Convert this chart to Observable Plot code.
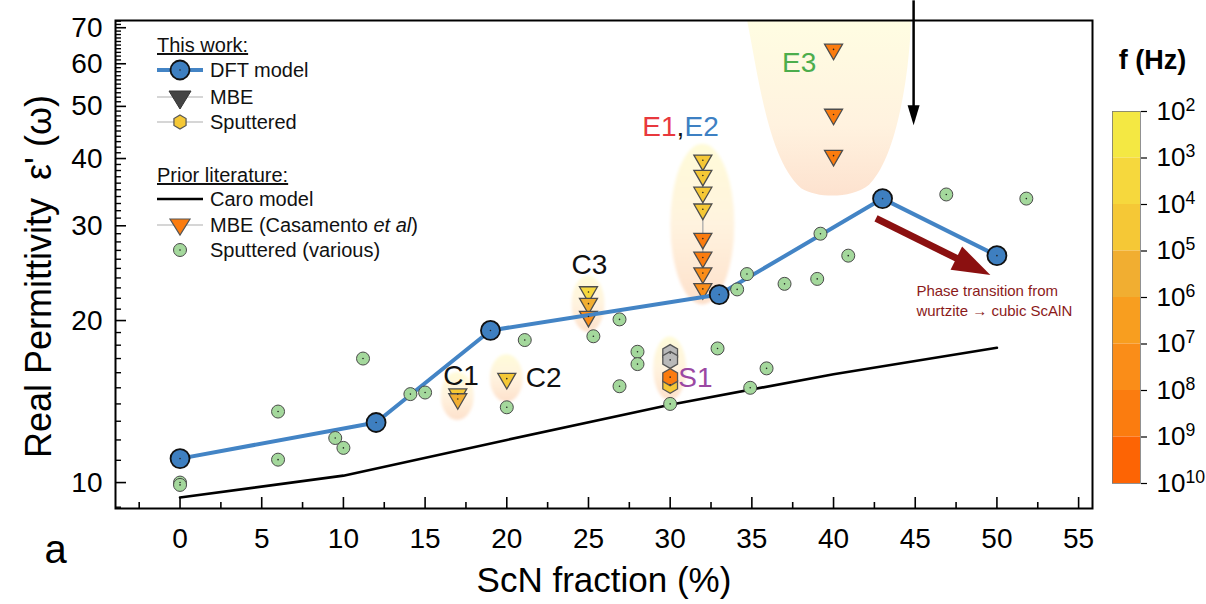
<!DOCTYPE html>
<html>
<head>
<meta charset="utf-8">
<script src="https://cdn.jsdelivr.net/npm/d3@7"></script>
<script src="https://cdn.jsdelivr.net/npm/@observablehq/plot@0.6"></script>
<style>
html,body{margin:0;padding:0;background:#fff;}
#wrap{position:relative;width:1206px;height:604px;overflow:hidden;}
#cbar{position:absolute;left:1100px;top:40px;}
</style>
</head>
<body>
<div id="wrap"><div id="main"></div><div id="cbar"></div></div>
<script>
// ---------------- data ----------------
const dftX = [0, 12, 19, 33, 43, 50];
const dftY = [11.08, 12.93, 19.17, 22.35, 33.7, 26.4];

const caroX = [0, 10, 20, 30, 40, 50];
const caroY = [9.38, 10.3, 12.0, 13.95, 15.9, 17.8];

const litX = [0, 0, 6, 6, 9.5, 10, 11.2, 14.1, 15, 20, 21.1, 25.3, 26.9, 26.9, 28, 28, 30, 32.9, 34.1, 34.7, 34.9, 35.9, 37, 39, 39.2, 40.9, 46.9, 51.8];
const litY = [10.0, 9.9, 13.55, 11.03, 12.1, 11.6, 17.0, 14.6, 14.7, 13.8, 18.4, 18.7, 20.1, 15.1, 17.5, 16.6, 14.0, 17.75, 22.85, 24.4, 15.0, 16.3, 23.4, 23.9, 29.0, 26.4, 34.3, 33.7];

const mbeGroup = ["C1","C1","C2","C3","C3","C3","E1,E2","E1,E2","E1,E2","E1,E2","E1,E2","E1,E2","E1,E2","E1,E2","E3","E3","E3"];
const mbeX = [17, 17, 20, 25, 25, 25, 32, 32, 32, 32, 32, 32, 32, 32, 40, 40, 40];
const mbeY = [14.6, 14.3, 15.6, 22.6, 21.5, 20.35, 39.7, 37.2, 34.6, 32.2, 28.4, 26.2, 24.5, 22.9, 63.8, 48.3, 40.5];
const mbeLogF = [4.5, 5.5, 4.5, 3.5, 5.5, 7.5, 4.5, 4.5, 4.5, 4.5, 8.5, 8.5, 7.5, 7.5, 8.5, 8.5, 8.5];

const spGroup = ["S1", "S1", "S1", "S1"];
const spX = [30, 30, 30, 30];
const spY = [17.4, 16.9, 15.2, 15.7];
const spLogF = [null, null, 4.5, 8.5];

const labelText = ["C1", "C2", "C3", "S1", "E3"];
const labelX = [17.2, 22.25, 25.06, 31.55, 37.9];
const labelY = [15.8, 15.67, 25.4, 15.67, 60.3];
const eLabelX = 30.63, eLabelY = 45.7;

const noteText = "Phase transition from\nwurtzite \u2192 cubic ScAlN";
const noteX = 45.07, noteY = 21.9;

const arrowBlack = {x1: 44.9, y1: 78.7, x2: 44.9, y2: 46.1};
const arrowRed = {x1: 42.6, y1: 30.96, x2: 49.6, y2: 24.3};

const fExp = [2, 3, 4, 5, 6, 7, 8, 9, 10];
const fColors = ["#f4e843", "#f6d83d", "#f5c836", "#f1ae31", "#f89e1f", "#fa8d18", "#fb7c0f", "#fd6404"];

const xTicks = [0, 5, 10, 15, 20, 25, 30, 35, 40, 45, 50, 55];
const xMinor = [-2.5, 2.5, 7.5, 12.5, 17.5, 22.5, 27.5, 32.5, 37.5, 42.5, 47.5, 52.5];
const yTicks = [10, 20, 30, 40, 50, 60, 70];

// ---------------- layout ----------------
const W = 1206, H = 604, mL = 115, mR = 114, mT = 20, mB = 96;
const xDomain = [-3.95, 55.85], yDomain = [8.95, 72.2];
const FF = "'Liberation Sans', Arial, Helvetica, sans-serif";

const yMinor = d3.range(9, 73).filter(v => !yTicks.includes(v));
const fColor = d3.scaleThreshold().domain(fExp.slice(1, -1)).range(fColors);

const dft = dftX.map((x, i) => ({x, y: dftY[i]}));
const caro = caroX.map((x, i) => ({x, y: caroY[i]}));
const lit = litX.map((x, i) => ({x, y: litY[i]}));
const mbe = mbeX.map((x, i) => ({x, y: mbeY[i], g: mbeGroup[i], f: mbeLogF[i]}));
const sp = spX.map((x, i) => ({x, y: spY[i], g: spGroup[i], f: spLogF[i]}));
const labels = labelText.map((t, i) => ({text: t, x: labelX[i], y: labelY[i]}));
const labelColor = {C1: "#111", C2: "#111", C3: "#111", S1: "#9b48a3", E3: "#4cad4c"};

// connectors
const connectors = d3.groups(mbe, d => d.g).filter(([g, p]) => p.length > 3).map(([g, p]) => ({
  x: p[0].x, y1: d3.min(p, d => d.y), y2: g === "E3" ? yDomain[1] : d3.max(p, d => d.y)
}));

// symbols
const triDown = {draw(ctx, size) { const r = Math.sqrt(size / Math.PI); ctx.moveTo(-r, -0.58 * r); ctx.lineTo(r, -0.58 * r); ctx.lineTo(0, 1.15 * r); ctx.closePath(); }};
const hexSym = {draw(ctx, size) { const r = Math.sqrt(size / Math.PI); for (let k = 0; k < 6; k++) { const a = -Math.PI / 2 + k * Math.PI / 3; const px = r * Math.cos(a), py = r * Math.sin(a); k ? ctx.lineTo(px, py) : ctx.moveTo(px, py); } ctx.closePath(); }};

// mirror scales (for arrow geometry & decorations)
const xs = d3.scaleLinear(xDomain, [mL, W - mR]);
const ys = d3.scaleLog(yDomain, [H - mB, mT]);

function arrowParts(a, L, hw) {
  const sx = xs(a.x1), sy = ys(a.y1), tx = xs(a.x2), ty = ys(a.y2);
  const ang = Math.atan2(ty - sy, tx - sx);
  const bx = tx - Math.cos(ang) * L * 0.85, by = ty - Math.sin(ang) * L * 0.85;
  const shaft = {x1: a.x1, y1: a.y1, x2: xs.invert(bx), y2: ys.invert(by)};
  const head = {draw(ctx) {
    const c = Math.cos(ang), s = Math.sin(ang);
    const pts = [[0, 0], [-L, hw], [-L, -hw]].map(([u, v]) => [u * c - v * s, u * s + v * c]);
    ctx.moveTo(pts[0][0], pts[0][1]); ctx.lineTo(pts[1][0], pts[1][1]); ctx.lineTo(pts[2][0], pts[2][1]); ctx.closePath();
  }};
  return {shaft, head, tip: {x: a.x2, y: a.y2}};
}
const aB = arrowParts(arrowBlack, 20, 6);
const aR = arrowParts(arrowRed, 38, 13);

const plot = Plot.plot({
  width: W, height: H,
  marginLeft: mL, marginRight: mR, marginTop: mT, marginBottom: mB,
  style: {fontFamily: FF, fontSize: "28px", color: "#000", background: "#fff", overflow: "visible"},
  x: {domain: xDomain, label: null},
  y: {type: "log", domain: yDomain, label: null},
  color: {type: "identity"},
  marks: [
    Plot.line(caro, {x: "x", y: "y", stroke: "#000", strokeWidth: 2.6}),
    Plot.ruleX(connectors, {x: "x", y1: "y1", y2: "y2", stroke: "#aaaaaa", strokeWidth: 1.3}),
    Plot.dot(mbe, {x: "x", y: "y", symbol: triDown, r: 9, fill: d => fColor(d.f), stroke: "#4d4d4d", strokeWidth: 1.3}),
    Plot.dot(sp, {x: "x", y: "y", symbol: hexSym, r: 8.5, fill: d => d.f == null ? "#b9b9b9" : fColor(d.f), stroke: "#555", strokeWidth: 1.3}),
    Plot.line(dft, {x: "x", y: "y", stroke: "#4384c5", strokeWidth: 4}),
    Plot.dot(lit, {x: "x", y: "y", r: 6.5, fill: "#a4d89c", stroke: "#4a4a4a", strokeWidth: 1}),
    Plot.dot(dft, {x: "x", y: "y", r: 9.5, fill: "#3e7fc0", stroke: "#111", strokeWidth: 1.8}),
    Plot.dot([...lit, ...dft, ...mbe, ...sp], {x: "x", y: "y", r: 0.8, fill: "#222"}),
    // arrows
    Plot.link([aB.shaft], {x1: "x1", y1: "y1", x2: "x2", y2: "y2", stroke: "#000", strokeWidth: 2.5}),
    Plot.dot([aB.tip], {x: "x", y: "y", symbol: aB.head, r: 5, fill: "#000", stroke: null}),
    Plot.link([aR.shaft], {x1: "x1", y1: "y1", x2: "x2", y2: "y2", stroke: "#8b1010", strokeWidth: 7}),
    Plot.dot([aR.tip], {x: "x", y: "y", symbol: aR.head, r: 5, fill: "#8b1010", stroke: null}),
    // labels
    Plot.text(labels, {x: "x", y: "y", text: "text", fill: d => labelColor[d.text], fontSize: 28, textAnchor: "middle", lineAnchor: "middle"}),
    Plot.text(["E1"], {x: () => eLabelX, y: () => eLabelY, text: d => d, fill: "#e8383d", fontSize: 28, textAnchor: "end", dx: -4, lineAnchor: "middle"}),
    Plot.text([","], {x: () => eLabelX, y: () => eLabelY, text: d => d, fill: "#111", fontSize: 28, textAnchor: "middle", lineAnchor: "middle"}),
    Plot.text(["E2"], {x: () => eLabelX, y: () => eLabelY, text: d => d, fill: "#3d80c3", fontSize: 28, textAnchor: "start", dx: 4, lineAnchor: "middle"}),
    Plot.text([noteText], {x: () => noteX, y: () => noteY, text: d => d, fill: "#8b1a1a", fontSize: 15, textAnchor: "start", lineAnchor: "middle", lineHeight: 1.33}),
    // axis titles
    Plot.text(["Real Permittivity\u2002\u03b5' (\u03c9)"], {frameAnchor: "left", text: d => d, rotate: -90, dx: -76, dy: 12, fontSize: 36, textAnchor: "middle", lineAnchor: "middle"}),
    Plot.text(["ScN fraction (%)"], {frameAnchor: "bottom", text: d => d, dy: 72, fontSize: 35, textAnchor: "middle", lineAnchor: "middle"}),
    Plot.text(["a"], {frameAnchor: "bottom-left", text: d => d, dx: -60, dy: 42, fontSize: 40, textAnchor: "middle", lineAnchor: "middle"}),
    // axes
    Plot.axisX({ticks: xTicks, tickSize: 0, tickPadding: 20, label: null, fontSize: 28}),
    Plot.axisX({ticks: xMinor, tickSize: -6, tickFormat: () => "", label: null, strokeWidth: 1.6}),
    Plot.axisX({ticks: xTicks, tickSize: -11, tickFormat: () => "", label: null, strokeWidth: 1.6}),
    Plot.axisY({ticks: yTicks, tickSize: 0, tickPadding: 13, label: null, tickFormat: d => String(d), fontSize: 28}),
    Plot.axisY({ticks: yMinor, tickSize: -6, tickFormat: () => "", label: null, strokeWidth: 1.4}),
    Plot.axisY({ticks: yTicks, tickSize: -11, tickFormat: () => "", label: null, strokeWidth: 1.6}),
    Plot.frame({stroke: "#000", strokeWidth: 2})
  ]
});
document.getElementById("main").appendChild(plot);

// ---------- decorations (highlight glows) ----------
(function addDecor(svg) {
  const g = d3.create("svg:g");
  const defs = g.append("defs");
  const mk = (id, stops) => { const lg = defs.append("linearGradient").attr("id", id).attr("x1", 0).attr("y1", 0).attr("x2", 0).attr("y2", 1); stops.forEach(([o, c]) => lg.append("stop").attr("offset", o).attr("stop-color", c)); };
  mk("glow", [[0, "#fffbd8"], [0.5, "#fff3df"], [1, "#fde0cb"]]);
  mk("glow2", [[0, "#fffde2"], [0.6, "#fff2df"], [1, "#fde2cf"]]);
  defs.append("filter").attr("id", "soft").attr("x", "-30%").attr("y", "-30%").attr("width", "160%").attr("height", "160%")
    .append("feGaussianBlur").attr("stdDeviation", 1.6);
  const all = [...mbe, ...sp];
  for (const [name, pts] of d3.groups(all, d => d.g)) {
    if (name === "E3") continue;
    const cx = xs(d3.mean(pts, d => d.x));
    const yTop = ys(d3.max(pts, d => d.y)), yBot = ys(d3.min(pts, d => d.y));
    const ry = Math.max(24, (yBot - yTop) / 2 + 16);
    const rx = name === "E1,E2" ? 32 : 16.5;
    g.append("ellipse").attr("cx", cx).attr("cy", (yTop + yBot) / 2).attr("rx", rx).attr("ry", ry)
      .attr("fill", "url(#glow)").attr("filter", "url(#soft)");
  }
  const e3 = all.filter(d => d.g === "E3");
  const cx = xs(e3[0].x), top = mT, h = ys(d3.min(e3, d => d.y)) + 40 - top;
  const p = `M${cx - 86},${top} C${cx - 74},${top + 0.35 * h} ${cx - 64},${top + 0.8 * h} ${cx - 32},${top + 0.96 * h}
    C${cx - 14},${top + 1.02 * h} ${cx + 18},${top + 1.02 * h} ${cx + 36},${top + 0.94 * h}
    C${cx + 62},${top + 0.8 * h} ${cx + 76},${top + 0.35 * h} ${cx + 78},${top} Z`;
  g.append("path").attr("d", p).attr("fill", "url(#glow2)");
  const st = svg.querySelector("style");
  svg.insertBefore(g.node(), st ? st.nextSibling : svg.firstChild);
})(plot);

// ---------- legend ----------
(function addLegend(svg) {
  const L = d3.select(svg).append("g").attr("font-family", FF).attr("font-size", 20).attr("fill", "#111").attr("text-anchor", "start");
  const x0 = 157, x1 = 203, xc = 180, xt = 210;
  const txt = (y, s) => L.append("text").attr("x", xt).attr("y", y).attr("dy", "0.36em").attr("text-anchor", "start").text(s);
  L.append("text").attr("x", x0).attr("y", 52).attr("text-anchor", "start").attr("text-decoration", "underline").text("This work:");
  // DFT
  L.append("line").attr("x1", x0).attr("x2", x1).attr("y1", 70).attr("y2", 70).attr("stroke", "#4384c5").attr("stroke-width", 4);
  L.append("circle").attr("cx", xc).attr("cy", 70).attr("r", 9.5).attr("fill", "#3e7fc0").attr("stroke", "#111").attr("stroke-width", 1.8);
  L.append("circle").attr("cx", xc).attr("cy", 70).attr("r", 0.8).attr("fill", "#222");
  txt(70, "DFT model");
  // MBE
  L.append("line").attr("x1", x0).attr("x2", x1).attr("y1", 97).attr("y2", 97).attr("stroke", "#c8c8c8").attr("stroke-width", 1.5);
  L.append("path").attr("d", `M${xc - 11},${91} L${xc + 11},${91} L${xc},${109} Z`).attr("fill", "#444").attr("stroke", "#333");
  txt(97, "MBE");
  // Sputtered
  L.append("line").attr("x1", x0).attr("x2", x1).attr("y1", 122).attr("y2", 122).attr("stroke", "#c8c8c8").attr("stroke-width", 1.5);
  const hx = d3.range(6).map(k => { const a = -Math.PI / 2 + k * Math.PI / 3; return [xc + 7 * Math.cos(a), 122 + 7 * Math.sin(a)]; });
  L.append("path").attr("d", "M" + hx.map(p => p.join(",")).join("L") + "Z").attr("fill", "#f5c836").attr("stroke", "#555").attr("stroke-width", 1.2);
  txt(122, "Sputtered");
  // Prior literature
  L.append("text").attr("x", x0).attr("y", 182).attr("text-anchor", "start").attr("text-decoration", "underline").text("Prior literature:");
  L.append("line").attr("x1", x0).attr("x2", x1).attr("y1", 199).attr("y2", 199).attr("stroke", "#000").attr("stroke-width", 2.6);
  txt(199, "Caro model");
  L.append("line").attr("x1", x0).attr("x2", x1).attr("y1", 225).attr("y2", 225).attr("stroke", "#c8c8c8").attr("stroke-width", 1.5);
  L.append("path").attr("d", `M${xc - 10},${219} L${xc + 10},${219} L${xc},${235} Z`).attr("fill", "#fb7c0f").attr("stroke", "#555").attr("stroke-width", 1.2);
  const t = txt(225, "MBE (Casamento ");
  t.append("tspan").attr("font-style", "italic").text("et al");
  t.append("tspan").text(")");
  L.append("circle").attr("cx", xc).attr("cy", 250).attr("r", 6.5).attr("fill", "#a4d89c").attr("stroke", "#4a4a4a");
  L.append("circle").attr("cx", xc).attr("cy", 250).attr("r", 0.8).attr("fill", "#222");
  txt(250, "Sputtered (various)");
})(plot);

// ---------- colour bar ----------
const bands = fExp.slice(0, -1).map((e, i) => ({lo: e, hi: e + 1, c: fColors[i]}));
const cbar = Plot.plot({
  width: 106, height: 460,
  marginLeft: 12, marginRight: 66, marginTop: 71, marginBottom: 17,
  style: {fontFamily: FF, fontSize: "26px", color: "#000", background: "transparent", overflow: "visible"},
  x: {domain: [0, 1], axis: null},
  y: {type: "log", domain: [10 ** fExp[0], 10 ** fExp[fExp.length - 1]], reverse: true, label: null},
  color: {type: "identity"},
  marks: [
    Plot.rect(bands, {x1: 0, x2: 1, y1: d => 10 ** d.lo, y2: d => 10 ** d.hi, fill: "c"}),
    Plot.frame({stroke: "#777", strokeWidth: 0.8}),
    Plot.axisY({anchor: "right", ticks: fExp.map(e => 10 ** e), tickSize: 6, tickPadding: 10, label: null,
      tickFormat: d => String(Math.round(Math.log10(d))), fontSize: 26, strokeWidth: 1.2}),
    Plot.text(["f (Hz)"], {frameAnchor: "top", text: d => d, dx: 26, dy: -51, fontSize: 27, fontWeight: "bold", textAnchor: "middle", lineAnchor: "middle"})
  ]
});
document.getElementById("cbar").appendChild(cbar);
d3.select(cbar).selectAll("g[aria-label='y-axis tick label'] text").each(function() {
  const e = this.textContent;
  const s = d3.select(this);
  s.text("10");
  s.append("tspan").attr("dy", "-0.5em").attr("font-size", "0.68em").text(e);
});
</script>
</body>
</html>
